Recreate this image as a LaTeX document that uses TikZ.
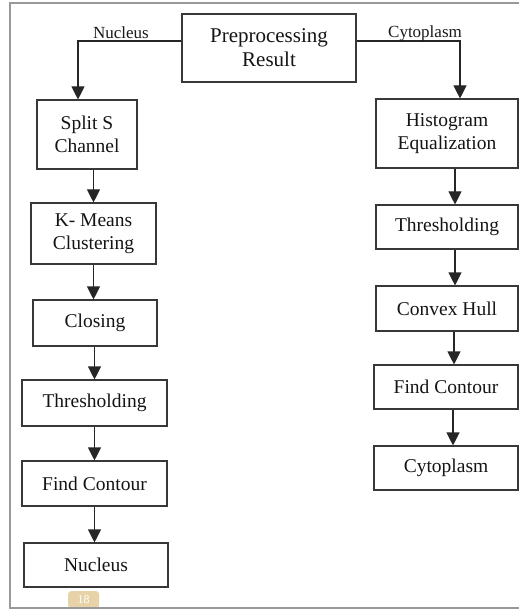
\documentclass[tikz,border=0pt]{standalone}
\usepackage{fontspec}
\setmainfont{Liberation Serif}
\usetikzlibrary{arrows.meta}
\begin{document}
\begin{tikzpicture}[x=1pt,y=-1pt,
  box/.style={draw=black!78, line width=1.1pt, inner sep=0pt, align=center,
    font=\fontsize{19.5}{23}\selectfont, text=black!92},
  arr/.style={draw=black!85, line width=1.1pt, -{Triangle[width=13pt,length=13pt]}},
  lbl/.style={font=\fontsize{17}{20}\selectfont, inner sep=0pt, text=black!90},
  frame/.style={draw=black!40, line width=1.3pt}]
\useasboundingbox (0,0) rectangle (519,609);
% page-number tag
\node[fill={rgb,255:red,232;green,210;blue,168}, rounded corners=3pt, minimum width=31pt, minimum height=17pt,
  inner sep=0pt, anchor=north west, text=white, font=\fontsize{12}{12}\selectfont] (tag) at (68,591) {18};
% frame
\draw[frame] (519,3) -- (10,3) -- (10,608) -- (519,608);
% nodes
\node[box, minimum width=174pt, minimum height=68pt, font=\fontsize{21}{24}\selectfont] (pre) at (269,48) {Preprocessing\\Result};
\node[box, minimum width=100pt, minimum height=69pt] (split) at (87,134.5) {Split S\\Channel};
\node[box, minimum width=125pt, minimum height=61pt] (kmeans) at (93.5,233.5) {K- Means\\Clustering};
\node[box, minimum width=124pt, minimum height=46pt] (closing) at (95,323) {Closing};
\node[box, minimum width=145pt, minimum height=46pt] (thr) at (94.5,403) {Thresholding};
\node[box, minimum width=145pt, minimum height=45pt] (fc) at (94.5,483.5) {Find Contour};
\node[box, minimum width=144pt, minimum height=44pt] (nuc) at (96,565) {Nucleus};
\node[box, minimum width=142pt, minimum height=69pt] (hist) at (447,133.5) {Histogram\\Equalization};
\node[box, minimum width=142pt, minimum height=44pt] (thr2) at (447,227) {Thresholding};
\node[box, minimum width=142pt, minimum height=45pt] (hull) at (447,308.5) {Convex Hull};
\node[box, minimum width=144pt, minimum height=44pt] (fc2) at (446,387) {Find Contour};
\node[box, minimum width=144pt, minimum height=44pt] (cyto) at (446,468) {Cytoplasm};
% branch connectors
\draw[arr] ([yshift=7pt]pre.west) -| ([xshift=-9pt]split.north);
\draw[arr] ([yshift=7pt]pre.east) -| ([xshift=13pt]hist.north);
\node[lbl] (lnuc) at (121,33) {Nucleus};
\node[lbl] (lcyt) at (425,33) {Cytoplasm};
% left chain
\draw[arr] (kmeans.north |- split.south) -- (kmeans.north);
\draw[arr] (kmeans.south) -- (kmeans.south |- closing.north);
\draw[arr] (thr.north |- closing.south) -- (thr.north);
\draw[arr] (fc.north |- thr.south) -- (fc.north);
\draw[arr] (fc.south) -- (fc.south |- nuc.north);
% right chain
\draw[arr] ([xshift=8pt]hist.south) -- ([xshift=8pt]hist.south |- thr2.north);
\draw[arr] ([xshift=8pt]thr2.south) -- ([xshift=8pt]thr2.south |- hull.north);
\draw[arr] ([xshift=7pt]hull.south) -- ([xshift=7pt]hull.south |- fc2.north);
\draw[arr] ([xshift=7pt]fc2.south) -- ([xshift=7pt]fc2.south |- cyto.north);
\end{tikzpicture}
\end{document}
